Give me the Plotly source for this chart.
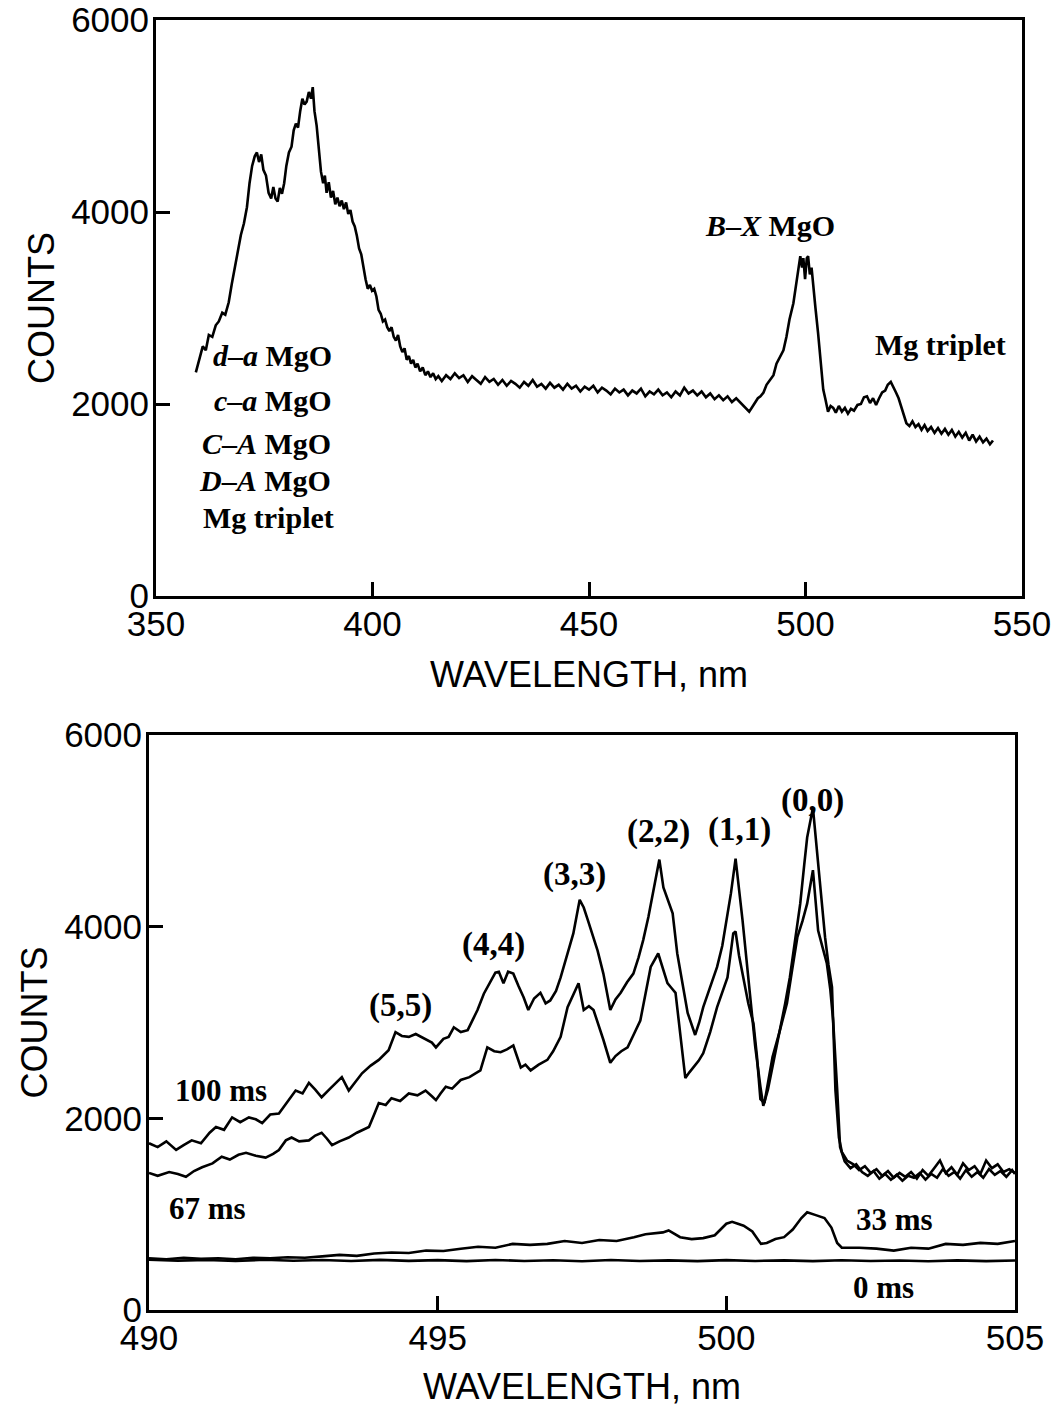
import plotly.graph_objects as go

# ---------------- Top panel: survey spectrum ----------------
top_wl = [359.2, 360.0, 360.8, 361.5, 362.2, 363.0, 363.8, 364.5, 365.3, 366.0, 366.8, 367.5, 368.2, 369.0, 369.6,
          370.3, 371.0, 371.6, 372.2, 372.8, 373.3, 373.8, 374.3, 374.8, 375.4, 376.0, 376.6, 377.1, 377.6, 378.1,
          378.6, 379.1, 379.6, 380.1, 380.7, 381.3, 381.8, 382.3, 382.8, 383.3, 383.8, 384.3, 384.8, 385.3, 385.8,
          386.2, 386.6, 387.1, 387.6, 388.1, 388.6, 389.0, 389.4, 389.9, 390.4, 390.9, 391.4, 391.9, 392.4, 392.9,
          393.4, 393.9, 394.4, 394.9, 395.4, 395.9, 396.4, 396.9, 397.4, 397.9, 398.4, 398.9, 399.4, 399.9, 400.4,
          400.9, 401.4, 401.9, 402.4, 402.9, 403.4, 403.9, 404.4, 404.9, 405.4, 405.9, 406.4, 406.9, 407.4, 407.9,
          408.4, 408.9, 409.4, 409.9, 410.4, 411.0, 411.6, 412.2, 412.8, 413.4, 414.0, 414.6, 415.2,
          416, 417, 418, 419, 420, 421, 422, 423, 424, 425, 426, 427, 428, 429, 430, 431, 432, 433, 434, 435,
          436, 437, 438, 439, 440, 441, 442, 443, 444, 445, 446, 447, 448, 449, 450, 451, 452, 453, 454, 455,
          456, 457, 458, 459, 460, 461, 462, 463, 464, 465, 466, 467, 468, 469, 470, 471, 472, 473, 474, 475,
          476, 477, 478, 479, 480, 481, 482, 483, 484, 485, 486, 487, 488, 489, 489.6,
          490.3, 491.0, 491.9, 492.6, 493.3, 494.0, 494.9, 495.6, 496.3, 497.2, 497.8, 498.4, 498.8, 499.2, 499.5,
          499.9, 500.3, 500.6, 501.0, 501.4, 501.8, 502.3, 502.9, 503.5, 504.1, 504.6, 505.2, 505.8, 506.4, 507.0,
          507.7, 508.4, 509.1, 509.8, 510.5, 511.2, 512.0, 512.8, 513.5, 514.2, 514.9, 515.6, 516.3, 517.0, 517.7,
          518.4, 519.0, 519.7, 520.3, 520.9, 521.5, 522.1, 522.7, 523.3, 524.0, 524.7, 525.4, 526.1, 526.8, 527.5,
          528.2, 529.0, 529.8, 530.6, 531.4, 532.2, 533.0, 533.8, 534.6, 535.4, 536.2, 537.0, 537.8, 538.6, 539.4,
          540.2, 541.0, 541.8, 542.6, 543.3]
top_counts = [2330, 2480, 2600, 2560, 2720, 2700, 2820, 2860, 2950, 2930, 3060, 3250, 3420, 3600, 3760,
              3880, 4050, 4300, 4480, 4580, 4620, 4520, 4600, 4440, 4380, 4200, 4140, 4260, 4140, 4110,
              4250, 4190, 4300, 4480, 4620, 4680, 4850, 4920, 4880, 5050, 5180, 5120, 5150, 5250, 5180,
              5300, 5050, 4900, 4650, 4420, 4300, 4380, 4200, 4310, 4150, 4220, 4080, 4150, 4060, 4120,
              4030, 4100, 3980, 4020, 3900, 3850, 3750, 3620, 3560, 3420, 3300, 3200, 3240, 3180, 3200,
              3120, 2980, 2940, 2860, 2880, 2800, 2760, 2800, 2700, 2660, 2720, 2600, 2540, 2580, 2460,
              2500, 2420, 2460, 2380, 2420, 2340, 2380, 2300, 2340, 2280, 2320, 2260, 2290,
              2240, 2300, 2260, 2320, 2270, 2300, 2230, 2290, 2250, 2210, 2280, 2230, 2260, 2200, 2250, 2190, 2240, 2210, 2170, 2230,
              2190, 2250, 2180, 2210, 2160, 2220, 2170, 2200, 2150, 2210, 2160, 2190, 2130, 2180, 2150, 2190, 2120, 2170, 2140, 2100,
              2160, 2120, 2150, 2090, 2140, 2110, 2160, 2080, 2130, 2100, 2150, 2090, 2120, 2070, 2130, 2090, 2170, 2110, 2140, 2090,
              2130, 2070, 2110, 2050, 2090, 2040, 2080, 2020, 2060, 2010, 1960, 1920, 1990, 2060, 2080,
              2120, 2200, 2260, 2300, 2420, 2480, 2560, 2700, 2880, 3050, 3250, 3400, 3540, 3420, 3520,
              3300, 3520, 3540, 3350, 3420, 3260, 3000, 2740, 2400, 2150, 2050, 1920, 1980, 1960, 1910,
              1980, 1920, 1960, 1900, 1950, 1930, 1990, 2000, 2070, 2080, 2010, 2060, 1990, 2060, 2120,
              2140, 2200, 2230, 2180, 2120, 2060, 1980, 1880, 1800, 1770, 1820, 1760, 1790, 1730, 1780,
              1720, 1760, 1700, 1750, 1690, 1740, 1680, 1730, 1660, 1710, 1650, 1700, 1620, 1680, 1610,
              1660, 1600, 1640, 1580, 1620]

# ---------------- Bottom panel: B-X band, time resolved ----------------
wl_100 = [490.00, 490.15, 490.30, 490.47, 490.60, 490.74, 490.90, 491.05, 491.16, 491.30, 491.44, 491.58, 491.73,
          491.85, 491.96, 492.10, 492.25, 492.42, 492.54, 492.66, 492.77, 492.88, 492.99, 493.12, 493.24, 493.34,
          493.46, 493.58, 493.69, 493.84, 493.98, 494.15, 494.27, 494.38, 494.50, 494.62, 494.79, 494.90, 494.97,
          495.10, 495.19, 495.28, 495.40, 495.52, 495.60, 495.69, 495.80, 495.92, 496.00, 496.06, 496.14, 496.22,
          496.31, 496.40, 496.49, 496.57, 496.67, 496.78, 496.87, 496.95, 497.05, 497.13, 497.25, 497.35, 497.46,
          497.53, 497.60, 497.68, 497.77, 497.87, 497.99, 498.08, 498.17, 498.28, 498.39, 498.48, 498.56, 498.65,
          498.74, 498.84, 498.91, 498.99, 499.07, 499.15, 499.24, 499.33, 499.46, 499.53, 499.60, 499.72, 499.84,
          499.93, 500.01, 500.08, 500.16, 500.22, 500.28, 500.35, 500.42, 500.50, 500.59, 500.64, 500.72, 500.82,
          500.93, 501.02, 501.10, 501.20, 501.28, 501.35, 501.40, 501.50, 501.55, 501.60, 501.66, 501.71, 501.77,
          501.83, 501.89, 501.95, 502.00, 502.09, 502.20, 502.30, 502.40, 502.50, 502.60, 502.70, 502.80, 502.90,
          503.00, 503.10, 503.20, 503.30, 503.40, 503.50, 503.60, 503.70, 503.80, 503.90, 504.00, 504.10, 504.20,
          504.30, 504.40, 504.50, 504.60, 504.70, 504.80, 504.90, 505.00]
counts_100 = [1740, 1700, 1760, 1670, 1720, 1770, 1740, 1850, 1910, 1880, 2010, 1960, 2010,
              1990, 1950, 2040, 2050, 2190, 2290, 2260, 2370, 2300, 2220, 2300, 2370, 2430,
              2290, 2390, 2470, 2550, 2610, 2710, 2900, 2860, 2850, 2880, 2820, 2790, 2740,
              2830, 2850, 2950, 2900, 2920, 3020, 3130, 3300, 3440, 3520, 3530, 3410, 3530,
              3510, 3380, 3260, 3130, 3250, 3310, 3200, 3230, 3330, 3470, 3720, 3930, 4280,
              4200, 4070, 3920, 3750, 3510, 3130, 3240, 3310, 3420, 3510, 3680, 3860, 4100,
              4380, 4700, 4410, 4270, 4140, 3720, 3400, 3100, 2870, 3000, 3160, 3380, 3580,
              3800, 4070, 4350, 4710, 4400, 4070, 3650, 3200, 2750, 2330, 2130, 2300, 2600,
              2920, 3200, 3470, 3880, 4240, 4650, 4930, 5240, 4900, 4590, 4200, 3890, 3600,
              3370, 2290, 1800, 1650, 1560, 1520, 1460, 1500, 1430, 1470, 1400, 1450, 1380,
              1430, 1390, 1440, 1370, 1460, 1400, 1480, 1560, 1430, 1490, 1410, 1530, 1460,
              1500, 1420, 1560, 1480, 1520, 1440, 1470, 1430]

wl_67 = [490.00, 490.15, 490.35, 490.50, 490.64, 490.78, 490.92, 491.10, 491.26, 491.40, 491.55, 491.68, 491.85,
         492.02, 492.15, 492.25, 492.37, 492.47, 492.60, 492.77, 492.88, 492.99, 493.08, 493.17, 493.30, 493.46,
         493.60, 493.81, 493.90, 493.98, 494.10, 494.20, 494.35, 494.50, 494.65, 494.79, 494.90, 494.97, 495.05,
         495.14, 495.25, 495.40, 495.55, 495.74, 495.86, 495.98, 496.09, 496.20, 496.31, 496.38, 496.44, 496.52,
         496.61, 496.75, 496.90, 497.00, 497.13, 497.25, 497.35, 497.44, 497.53, 497.62, 497.70, 497.80, 497.87,
         497.99, 498.08, 498.18, 498.29, 498.40, 498.51, 498.60, 498.69, 498.82, 498.90, 498.98, 499.05, 499.12,
         499.20, 499.29, 499.36, 499.43, 499.52, 499.60, 499.72, 499.84, 499.93, 500.02, 500.12, 500.16, 500.22,
         500.30, 500.38, 500.47, 500.53, 500.59, 500.66, 500.73, 500.80, 500.92, 501.05, 501.14, 501.23, 501.32,
         501.40, 501.50, 501.55, 501.59, 501.66, 501.74, 501.80, 501.85, 501.92, 501.97, 502.05, 502.15, 502.25,
         502.35, 502.45, 502.55, 502.65, 502.75, 502.85, 502.95, 503.05, 503.15, 503.25, 503.35, 503.45, 503.55,
         503.65, 503.75, 503.85, 503.95, 504.05, 504.15, 504.25, 504.35, 504.45, 504.55, 504.65, 504.75, 504.85,
         504.95, 505.00]
counts_67 = [1430, 1400, 1440, 1420, 1390, 1450, 1490, 1530, 1600, 1570, 1620, 1640, 1610,
             1590, 1630, 1670, 1770, 1800, 1760, 1770, 1820, 1850, 1790, 1720, 1760, 1800,
             1850, 1910, 2040, 2160, 2140, 2210, 2180, 2260, 2240, 2290, 2230, 2190, 2260,
             2330, 2310, 2400, 2430, 2500, 2740, 2700, 2690, 2720, 2760, 2640, 2530, 2560,
             2500, 2560, 2610, 2700, 2850, 3160, 3300, 3410, 3130, 3170, 3130, 2960, 2820,
             2580, 2650, 2700, 2740, 2880, 3020, 3300, 3580, 3720, 3560, 3410, 3360, 3310,
             2890, 2420, 2480, 2530, 2600, 2680, 2900, 3160, 3320, 3470, 3930, 3950, 3700,
             3440, 3200, 2990, 2650, 2200, 2160, 2400, 2640, 2900, 3200, 3550, 3890, 4060,
             4240, 4590, 4250, 3960, 3800, 3620, 3350, 3020, 2300, 1700, 1550, 1480, 1520,
             1440, 1400, 1450, 1370, 1420, 1360, 1410, 1350, 1400, 1380, 1430, 1360, 1420,
             1380, 1470, 1400, 1440, 1370, 1460, 1390, 1440, 1380, 1470, 1410, 1450, 1390,
             1460, 1420]

wl_33 = [490.0, 490.3, 490.6, 490.9, 491.2, 491.5, 491.8, 492.1, 492.4, 492.7, 493.0, 493.3, 493.6, 493.9, 494.2,
         494.5, 494.8, 495.1, 495.4, 495.7, 496.0, 496.3, 496.6, 496.9, 497.2, 497.5, 497.8, 498.1, 498.4, 498.6,
         498.9, 499.0, 499.2, 499.4, 499.6, 499.8, 500.0, 500.1, 500.2, 500.3, 500.45, 500.6, 500.7, 500.85, 501.0,
         501.15, 501.3, 501.4, 501.55, 501.7, 501.82, 501.92, 502.0, 502.3, 502.6, 502.9, 503.2, 503.5, 503.8,
         504.1, 504.4, 504.7, 505.0]
counts_33 = [540, 530, 545, 535, 540, 530, 545, 540, 550, 545, 560, 575, 565, 590, 600,
             595, 620, 615, 640, 660, 650, 690, 680, 690, 720, 700, 730, 720, 760, 790,
             810, 830, 760, 740, 750, 780, 900, 920, 900, 880, 820, 690, 700, 740, 760,
             840, 960, 1020, 990, 960, 860, 700, 650, 650, 640, 620, 650, 640, 690,
             680, 700, 690, 720]

wl_0 = [490.0, 490.5, 491.0, 491.5, 492.0, 492.5, 493.0, 493.5, 494.0, 494.5, 495.0, 495.5, 496.0, 496.5, 497.0,
        497.5, 498.0, 498.5, 499.0, 499.5, 500.0, 500.5, 501.0, 501.5, 502.0, 502.5, 503.0, 503.5, 504.0, 504.5, 505.0]
counts_0 = [525, 515, 522, 512, 524, 514, 521, 511, 523, 513, 520, 510, 522, 512, 519,
            509, 521, 511, 518, 510, 520, 512, 518, 510, 519, 511, 517, 509, 518, 510, 516]

# left-hand label block of the top panel is right-aligned at x = 391.5 nm
left_labels = ["<i>d</i>–<i>a</i> MgO", "<i>c</i>–<i>a</i> MgO", "<i>C</i>–<i>A</i> MgO",
               "<i>D</i>–<i>A</i> MgO", "Mg triplet"]
left_label_x = [391.2, 390.8, 390.8, 390.8, 391.5]
left_label_y = [2506, 2040, 1590, 1205, 820]

peak_labels = ["<i>B</i>–<i>X</i> MgO", "Mg triplet"]
peak_label_x = [491.9, 531.1]
peak_label_y = [3860, 2620]

band_labels = ["(5,5)", "(4,4)", "(3,3)", "(2,2)", "(1,1)", "(0,0)"]
band_label_x = [494.36, 495.97, 497.37, 498.82, 500.22, 501.5]
band_label_y = [3180, 3810, 4540, 4990, 5010, 5320]

time_labels = ["100 ms", "67 ms", "33 ms", "0 ms"]
time_label_x = [491.25, 491.02, 502.92, 502.73]
time_label_y = [2290, 1060, 940, 230]

top_ticks = [350, 400, 450, 500, 550]
bot_ticks = [490, 495, 500, 505]
count_ticks = [0, 2000, 4000, 6000]

W, H = 1058, 1410


def xdom(a, b):
    return [a / W, b / W]


def ydom(top, bottom):
    return [1 - bottom / H, 1 - top / H]


line = dict(color="black", width=2.6)

fig = go.Figure()
fig.add_trace(go.Scatter(x=top_wl, y=top_counts, mode="lines", line=line, xaxis="x", yaxis="y", showlegend=False))
for xs, ys in [(wl_100, counts_100), (wl_67, counts_67), (wl_33, counts_33), (wl_0, counts_0)]:
    fig.add_trace(go.Scatter(x=xs, y=ys, mode="lines", line=line, xaxis="x2", yaxis="y2", showlegend=False))

lab_font = dict(family="Liberation Serif", size=30, color="black", weight="bold")
band_font = dict(family="Liberation Serif", size=33, color="black", weight="bold")
time_font = dict(family="Liberation Serif", size=31, color="black", weight="bold")
annotations = []
for t, x, y in zip(left_labels, left_label_x, left_label_y):
    annotations.append(dict(text=t, x=x, y=y, xref="x", yref="y", xanchor="right", showarrow=False, font=lab_font))
for t, x, y in zip(peak_labels, peak_label_x, peak_label_y):
    annotations.append(dict(text=t, x=x, y=y, xref="x", yref="y", showarrow=False, font=lab_font))
for t, x, y in zip(band_labels, band_label_x, band_label_y):
    annotations.append(dict(text=t, x=x, y=y, xref="x2", yref="y2", showarrow=False, font=band_font))
for t, x, y in zip(time_labels, time_label_x, time_label_y):
    annotations.append(dict(text=t, x=x, y=y, xref="x2", yref="y2", showarrow=False, font=time_font))

tick_font = dict(family="Liberation Sans", size=35, color="black")
title_font = dict(family="Liberation Sans", size=36, color="black")

axis_common = dict(showline=True, linecolor="black", linewidth=3, mirror=True, ticks="inside",
                   ticklen=14, tickwidth=3, tickcolor="black", showgrid=False, zeroline=False,
                   tickfont=tick_font, automargin=False)

fig.update_layout(
    width=W, height=H, paper_bgcolor="white", plot_bgcolor="white",
    margin=dict(l=0, r=0, t=0, b=0),
    xaxis=dict(domain=xdom(156, 1022), range=[350, 550], tickvals=top_ticks, anchor="y",
               ticklabelstandoff=-5,
               title=dict(text="WAVELENGTH, nm", font=title_font, standoff=20), **axis_common),
    yaxis=dict(domain=ydom(20, 596), range=[0, 6000], tickvals=count_ticks, anchor="x",
               ticklabelstandoff=-3,
               title=dict(text="COUNTS", font=title_font, standoff=6), **axis_common),
    xaxis2=dict(domain=xdom(149, 1015), range=[490, 505], tickvals=bot_ticks, anchor="y2",
                ticklabelstandoff=-5,
                title=dict(text="WAVELENGTH, nm", font=title_font, standoff=18), **axis_common),
    yaxis2=dict(domain=ydom(735, 1310), range=[0, 6000], tickvals=count_ticks, anchor="x2",
                ticklabelstandoff=-3,
                title=dict(text="COUNTS", font=title_font, standoff=6), **axis_common),
    annotations=annotations,
)

# place the figure flush with the window corner (no default page margin), no mode bar
fig.write_html("out.html", config={"displayModeBar": False},
               post_script="document.body.style.margin='0';document.body.style.overflow='hidden';")
